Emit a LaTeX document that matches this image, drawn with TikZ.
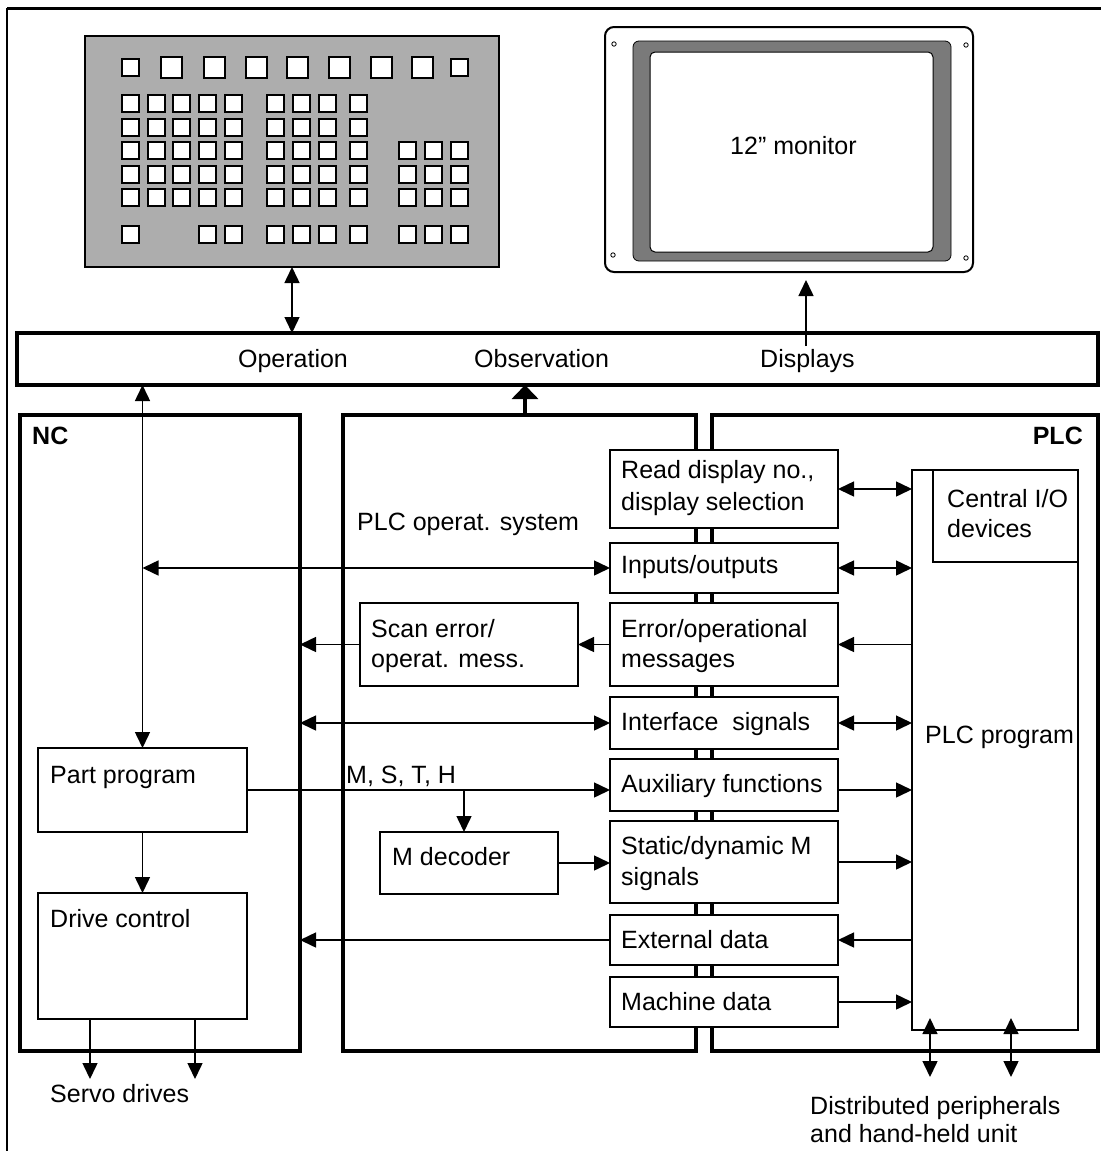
\documentclass[tikz,border=0pt]{standalone}
\usepackage{fontspec}
\setmainfont{Liberation Sans}
\usetikzlibrary{arrows.meta}
\newcommand\drawbox[6]{\node[#1,anchor=north west,minimum width=#5pt-#3pt,minimum height=#6pt-#4pt] (#2) at (#3,#4) {};}
\begin{document}
\begin{tikzpicture}[x=1pt,y=-1pt,
  box/.style={draw,line width=1.8pt,fill=white,inner sep=0pt,outer sep=0pt},
  frame/.style={draw,line width=4pt,inner sep=0pt,outer sep=0pt},
  thinbox/.style={draw,line width=1.4pt,inner sep=0pt,outer sep=0pt},
  txt/.style={font=\fontsize{25}{30}\selectfont,inner sep=0pt,anchor=base west},
  btxt/.style={font=\fontsize{25}{30}\selectfont\bfseries,inner sep=0pt},
  arr/.style={line width=1.5pt,-{Triangle[length=16pt,width=15pt]}},
  darr/.style={line width=1.5pt,{Triangle[length=16pt,width=15pt]}-{Triangle[length=16pt,width=15pt]}},
  kbkey/.style={draw,line width=1.8pt,fill=white}]

\useasboundingbox (0,0) rectangle (1101,1151);
\fill[white] (0,0) rectangle (1101,1151);
% outer frame
\draw[line width=3pt] (7,8) -- (1101,8);
\draw[line width=1.4pt] (7,8) -- (7,1151);

% keyboard
\drawbox{draw,line width=1.5pt,fill=black!32,inner sep=0pt,outer sep=0pt}{kb}{85}{36}{499}{267}
\foreach \x in {161,204,246,287,329,371,412} \filldraw[kbkey] (\x,57) rectangle ++(21,21);
\foreach \x in {122,451} \filldraw[kbkey] (\x,59) rectangle ++(17,17);
\foreach \y in {95,119} \foreach \x in {122,148,173,199,225,267,293,319,350}
  \filldraw[kbkey] (\x,\y) rectangle ++(17,17);
\foreach \y in {142,166,189} \foreach \x in {122,148,173,199,225,267,293,319,350,399,425,451}
  \filldraw[kbkey] (\x,\y) rectangle ++(17,17);
\foreach \x in {122,199,225,267,293,319,350,399,425,451}
  \filldraw[kbkey] (\x,226) rectangle ++(17,17);

% monitor
\drawbox{draw,line width=2pt,rounded corners=9pt,fill=white,inner sep=0pt,outer sep=0pt}{mon}{605}{27}{973}{272}
\filldraw[fill=black!52,draw=black,line width=0.8pt,rounded corners=6pt] (633,41) rectangle (951,261);
\filldraw[fill=white,draw=black,line width=1pt,rounded corners=5pt] (650,52) rectangle (933,252);
\foreach \p in {(614,44),(966,45),(613,255),(966,258)} \draw[line width=0.8pt] \p circle (2.2);
\node[txt] (montxt) at (730,154) {12” monitor};

% bar and main frames
\drawbox{frame}{bar}{17}{333}{1098}{385}
\drawbox{frame}{nc}{20}{415}{300}{1051}
\drawbox{frame}{mid}{343}{415}{696}{1051}
\drawbox{frame}{plc}{712}{415}{1098}{1051}

% stacked boxes
\drawbox{box}{rd}{610}{450}{838}{528}
\drawbox{box}{io}{610}{543}{838}{593}
\drawbox{box}{err}{610}{603}{838}{686}
\drawbox{box}{ifs}{610}{697}{838}{749}
\drawbox{box}{aux}{610}{759}{838}{811}
\drawbox{box}{sdm}{610}{821}{838}{903}
\drawbox{box}{ext}{610}{915}{838}{965}
\drawbox{box}{mach}{610}{977}{838}{1027}

% PLC program
\drawbox{thinbox}{plcp}{912}{470}{1078}{1030}
\drawbox{thinbox}{cio}{933}{470}{1078}{562}

% middle and NC boxes
\drawbox{box}{scan}{360}{603}{578}{686}
\drawbox{box}{part}{38}{748}{247}{832}
\drawbox{box}{mdec}{380}{832}{558}{894}
\drawbox{box}{drv}{38}{893}{247}{1019}

% texts
\node[txt,anchor=base] (op) at (293,367) {Operation};
\node[txt] (obstxt) at (474,367) {Observation};
\node[txt] (disp) at (760,367) {Displays};
\node[btxt,anchor=base west] (nclbl) at (32,444) {NC};
\node[btxt,anchor=base east] (plclbl) at (1083,444) {PLC};
\node[txt] (plcos) at (357,530) {PLC operat. system};
\node[txt] (rd1) at (621,478) {Read display no.,};
\node[txt] (rd2) at (621,510) {display selection};
\node[txt] (cio1) at (947,507) {Central I/O};
\node[txt] (cio2) at (947,537) {devices};
\node[txt] (iot) at (621,573) {Inputs/outputs};
\node[txt] (sc1) at (371,637) {Scan error/};
\node[txt] (sc2) at (371,667) {operat. mess.};
\node[txt] (er1) at (621,637) {Error/operational};
\node[txt] (er2) at (621,667) {messages};
\node[txt] (ift) at (621,730) {Interface\ \ signals};
\node[txt] (plcpt) at (925,743) {PLC program};
\node[txt] (partt) at (50,783) {Part program};
\node[txt] (msth) at (346,783) {M, S, T, H};
\node[txt] (auxt) at (621,792) {Auxiliary functions};
\node[txt] (mdect) at (392,865) {M decoder};
\node[txt] (sd1) at (621,854) {Static/dynamic M};
\node[txt] (sd2) at (621,885) {signals};
\node[txt] (drvt) at (50,927) {Drive control};
\node[txt] (extt) at (621,948) {External data};
\node[txt] (macht) at (621,1010) {Machine data};
\node[txt] (servo) at (50,1102) {Servo drives};
\node[txt] (dp1) at (810,1114) {Distributed peripherals};
\node[txt] (dp2) at (810,1142) {and hand-held unit};

% coordinates
\coordinate (dtop) at (806,280);
\coordinate (dbot) at (806,346);
\coordinate (obs) at (525,415);
\coordinate (br) at (464,790);
\coordinate (s1) at (90,1079);
\coordinate (s2) at (195,1079);
\coordinate (p1) at (930,1018);
\coordinate (p1b) at (930,1077);
\coordinate (p2) at (1011,1018);
\coordinate (p2b) at (1011,1077);

% connectors top
\draw[darr] (kb.south) -- (kb.south |- bar.north);
\draw[arr] (dbot) -- (dtop);
\draw[line width=4pt,-{Triangle[length=14pt,width=26pt]}] (obs) -- (obs |- bar.south);
\draw[darr] (part.north |- bar.south) -- (part.north);

% left side connectors
\draw[darr] (io.west -| part.north) -- (io.west);
\draw[arr] (err.west) -- (err.west -| scan.east);
\draw[arr] (scan.west) -- (scan.west -| nc.east);
\draw[darr] (ifs.west -| nc.east) -- (ifs.west);
\draw[arr] (part.east) -- (part.east -| aux.west);
\draw[arr] (br) -- (br |- mdec.north);
\draw[arr] (mdec.east) -- (mdec.east -| sdm.west);
\draw[arr] (ext.west) -- (ext.west -| nc.east);
\draw[arr] (part.south) -- (drv.north);
\draw[arr] (s1 |- drv.south) -- (s1);
\draw[arr] (s2 |- drv.south) -- (s2);

% right side connectors
\draw[darr] (rd.east) -- (rd.east -| plcp.west);
\draw[darr] (io.east) -- (io.east -| plcp.west);
\draw[arr] (err.east -| plcp.west) -- (err.east);
\draw[darr] (ifs.east) -- (ifs.east -| plcp.west);
\draw[arr] (part.east -| aux.east) -- (part.east -| plcp.west);
\draw[arr] (sdm.east) -- (sdm.east -| plcp.west);
\draw[arr] (ext.east -| plcp.west) -- (ext.east);
\draw[arr] (mach.east) -- (mach.east -| plcp.west);
\draw[darr] (p1) -- (p1b);
\draw[darr] (p2) -- (p2b);
\end{tikzpicture}
\end{document}
